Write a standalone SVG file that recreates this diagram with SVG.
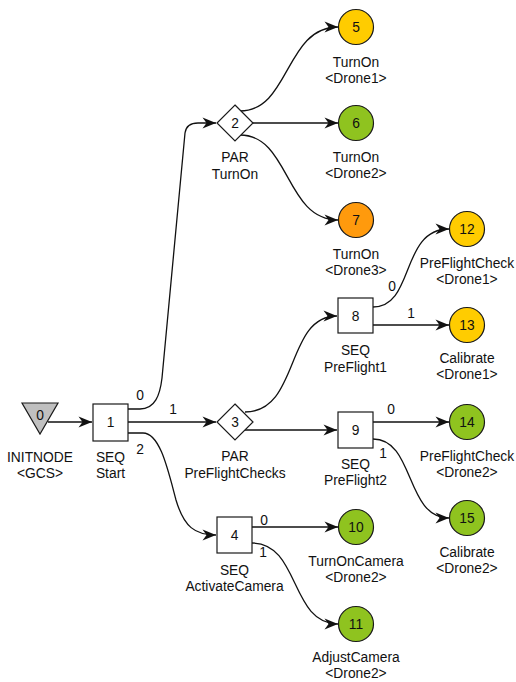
<svg xmlns="http://www.w3.org/2000/svg" width="516" height="682" viewBox="0 0 516 682">
  <style>
    text { font-family: "Liberation Sans", Arial, sans-serif; font-size: 13.8px; fill: #111; text-anchor: middle; }
    .shape { stroke: #1a1a1a; stroke-width: 1.2; }
    .box { fill: #ffffff; }
    .init { fill: #c0c0c0; }
    .yellow { fill: #ffcc00; }
    .green { fill: #8fc31f; }
    .orange { fill: #ff9a0d; }
    .edge { fill: none; stroke: #111; stroke-width: 1.3; marker-end: url(#arrow); }
  </style>
  <defs>
    <marker id="arrow" markerUnits="userSpaceOnUse" viewBox="-14 -7 15 14" refX="0" refY="0" markerWidth="15" markerHeight="14" orient="auto">
      <path d="M0,0 L-13.5,-5.5 L-9.5,0 L-13.5,5.5 Z" fill="#111"/>
    </marker>
  </defs>
  <rect width="516" height="682" fill="#ffffff"/>

  <!-- connectors -->
  <g id="edges">
    <path class="edge" d="M48,422 H92"/>
    <path class="edge" d="M128,409 L140,409 C155,409 160,395 162,378 L185,133 C186,126 190,123 198,123 L216,123"/>
    <path class="edge" d="M128,422 H216"/>
    <path class="edge" d="M128,433 L143,433 C160,433 168,470 176,500 C184,527 195,535 216,535"/>
    <path class="edge" d="M240,111 C290,111 285,27 338,27"/>
    <path class="edge" d="M252,123 H338"/>
    <path class="edge" d="M240,135 C290,135 285,220 338,220"/>
    <path class="edge" d="M245,412 C300,412 285,316 337,316"/>
    <path class="edge" d="M245,430 H337"/>
    <path class="edge" d="M373,307 C415,307 400,229 449,229"/>
    <path class="edge" d="M373,325 H449"/>
    <path class="edge" d="M373,422 H449"/>
    <path class="edge" d="M373,439 C415,439 405,518 449,518"/>
    <path class="edge" d="M252,527 H338"/>
    <path class="edge" d="M252,543 C300,543 290,624 338,624"/>
    <!-- branch indices -->
    <text x="140" y="400">0</text>
    <text x="173" y="414">1</text>
    <text x="140" y="454">2</text>
    <text x="392" y="291">0</text>
    <text x="411" y="318">1</text>
    <text x="391" y="414">0</text>
    <text x="383" y="458">1</text>
    <text x="264" y="525">0</text>
    <text x="263" y="557">1</text>
  </g>

  <!-- nodes -->
  <g id="node0">
    <polygon class="shape init" points="22,403 58,403 40,434"/>
    <text x="40" y="420">0</text>
    <text x="40" y="462">INITNODE</text>
    <text x="40" y="478">&lt;GCS&gt;</text>
  </g>
  <g id="node1">
    <rect class="shape box" x="93" y="404" width="35" height="37"/>
    <text x="110.5" y="427">1</text>
    <text x="110.5" y="462">SEQ</text>
    <text x="110.5" y="478">Start</text>
  </g>
  <g id="node2">
    <polygon class="shape box" points="235,105 253,123 235,141 217,123"/>
    <text x="235" y="128">2</text>
    <text x="235" y="162">PAR</text>
    <text x="235" y="179">TurnOn</text>
  </g>
  <g id="node3">
    <polygon class="shape box" points="235,404 253,422 235,440 217,422"/>
    <text x="235" y="427">3</text>
    <text x="235" y="461">PAR</text>
    <text x="235" y="478">PreFlightChecks</text>
  </g>
  <g id="node4">
    <rect class="shape box" x="217" y="517" width="35" height="36"/>
    <text x="234.5" y="540">4</text>
    <text x="234.5" y="575">SEQ</text>
    <text x="234.5" y="591">ActivateCamera</text>
  </g>
  <g id="node5">
    <circle class="shape yellow" cx="356" cy="27" r="17.5"/>
    <text x="356" y="32">5</text>
    <text x="356" y="67">TurnOn</text>
    <text x="356" y="83">&lt;Drone1&gt;</text>
  </g>
  <g id="node6">
    <circle class="shape green" cx="356" cy="123" r="17.5"/>
    <text x="356" y="128">6</text>
    <text x="356" y="162">TurnOn</text>
    <text x="356" y="178">&lt;Drone2&gt;</text>
  </g>
  <g id="node7">
    <circle class="shape orange" cx="356" cy="220" r="17.5"/>
    <text x="356" y="225">7</text>
    <text x="356" y="259">TurnOn</text>
    <text x="356" y="275">&lt;Drone3&gt;</text>
  </g>
  <g id="node8">
    <rect class="shape box" x="338" y="298" width="35" height="35"/>
    <text x="355.5" y="321">8</text>
    <text x="355.5" y="355">SEQ</text>
    <text x="355.5" y="372">PreFlight1</text>
  </g>
  <g id="node9">
    <rect class="shape box" x="338" y="412" width="35" height="36"/>
    <text x="355.5" y="435">9</text>
    <text x="355.5" y="469">SEQ</text>
    <text x="355.5" y="485">PreFlight2</text>
  </g>
  <g id="node10">
    <circle class="shape green" cx="356" cy="527" r="17.5"/>
    <text x="356" y="532">10</text>
    <text x="356" y="566">TurnOnCamera</text>
    <text x="356" y="582">&lt;Drone2&gt;</text>
  </g>
  <g id="node11">
    <circle class="shape green" cx="356" cy="624" r="17.5"/>
    <text x="356" y="629">11</text>
    <text x="356" y="662">AdjustCamera</text>
    <text x="356" y="678">&lt;Drone2&gt;</text>
  </g>
  <g id="node12">
    <circle class="shape yellow" cx="467" cy="229" r="17.5"/>
    <text x="467" y="234">12</text>
    <text x="467" y="268">PreFlightCheck</text>
    <text x="467" y="284">&lt;Drone1&gt;</text>
  </g>
  <g id="node13">
    <circle class="shape yellow" cx="467" cy="325" r="17.5"/>
    <text x="467" y="330">13</text>
    <text x="467" y="363">Calibrate</text>
    <text x="467" y="379">&lt;Drone1&gt;</text>
  </g>
  <g id="node14">
    <circle class="shape green" cx="467" cy="422" r="17.5"/>
    <text x="467" y="427">14</text>
    <text x="467" y="461">PreFlightCheck</text>
    <text x="467" y="477">&lt;Drone2&gt;</text>
  </g>
  <g id="node15">
    <circle class="shape green" cx="467" cy="518" r="17.5"/>
    <text x="467" y="523">15</text>
    <text x="467" y="557">Calibrate</text>
    <text x="467" y="573">&lt;Drone2&gt;</text>
  </g>
</svg>
